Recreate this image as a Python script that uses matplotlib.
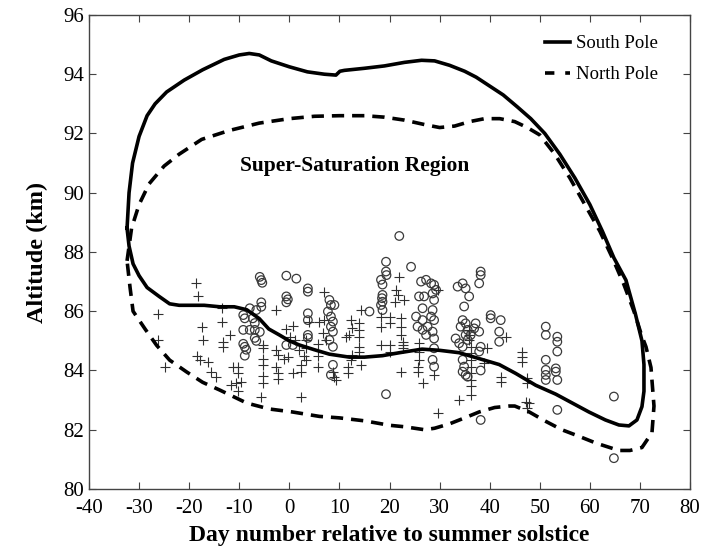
import matplotlib
matplotlib.use("Agg")
import matplotlib.pyplot as plt
from matplotlib.lines import Line2D

plt.rcParams['font.family'] = ['Liberation Serif', 'DejaVu Serif']
plt.rcParams['axes.unicode_minus'] = False

# South Pole boundary (closed curve)
sp_x = [-32.4, -32.0, -31.3, -30.0, -28.4, -26.8, -24.5, -21.0, -17.3, -13.0, -10.0, -8.0, -6.0,
        -3.6, 0.0, 3.6, 7.0, 9.3, 10.1, 11.0, 15.0, 19.0, 23.0, 26.4, 29.0, 32.0, 35.0, 37.3,
        40.0, 42.7, 45.5, 48.2, 51.0, 54.0, 57.0, 60.0, 62.5, 64.8, 67.2, 69.1, 70.4, 70.8,
        70.8, 70.4, 69.4, 67.8, 65.8, 63.1, 59.8, 56.5, 53.2, 49.2, 45.2, 41.9, 37.9, 33.9,
        30.0, 26.5, 22.0, 18.6, 15.0, 12.0, 8.0, 5.0, 2.0, 0.0, -2.0, -4.1, -6.0, -8.5, -11.0,
        -13.9, -17.0, -20.0, -22.0, -23.9, -26.0, -28.4, -30.0, -31.2, -32.0, -32.4]
sp_y = [88.8, 90.0, 91.0, 91.9, 92.6, 93.0, 93.4, 93.8, 94.15, 94.5, 94.65, 94.7, 94.65,
        94.45, 94.25, 94.08, 94.0, 93.97, 94.1, 94.13, 94.2, 94.28, 94.4, 94.47, 94.45, 94.3, 94.1, 93.9,
        93.6, 93.3, 92.9, 92.5, 92.0, 91.3, 90.5, 89.6, 88.7, 87.8, 87.05, 85.9, 85.0, 84.2,
        83.3, 82.78, 82.33, 82.13, 82.16, 82.33, 82.6, 82.9, 83.2, 83.5, 83.9, 84.2, 84.4, 84.6,
        84.68, 84.72, 84.6, 84.5, 84.45, 84.45, 84.55, 84.7, 84.86, 85.0, 85.2, 85.4, 85.75, 86.05, 86.15,
        86.15, 86.2, 86.2, 86.2, 86.25, 86.5, 86.8, 87.2, 87.6, 88.2, 88.8]

# North Pole boundary (closed curve)
np_x = [-32.4, -31.5, -30.0, -28.0, -25.0, -22.0, -17.5, -12.0, -6.0, 0.0, 5.0, 10.0, 15.0, 19.0,
        23.0, 27.0, 30.0, 33.0, 36.0, 39.0, 42.0, 45.0, 47.5, 50.0, 53.0, 56.0, 59.0, 62.0, 64.5,
        66.8, 68.8, 70.3, 71.2, 72.2, 72.8, 72.4, 70.4, 68.0, 65.8, 61.2, 57.5, 54.4, 51.0, 47.9,
        45.0, 43.9, 41.0, 37.9, 35.0, 32.0, 29.0, 27.0, 23.0, 20.0, 15.0, 10.0, 6.0, 0.6, -4.0,
        -8.5, -13.9, -17.3, -20.5, -23.9, -26.5, -28.8, -31.2, -31.8, -32.4]
np_y = [87.7, 88.8, 89.6, 90.3, 90.9, 91.3, 91.8, 92.1, 92.35, 92.5, 92.58, 92.6, 92.6, 92.55,
        92.45, 92.3, 92.2, 92.25, 92.4, 92.5, 92.5, 92.4, 92.2, 91.95, 91.3, 90.5, 89.6, 88.7, 87.8,
        86.9, 86.0, 85.2, 84.8, 84.1, 82.8, 81.9, 81.4, 81.3, 81.3, 81.55, 81.8, 82.0, 82.3, 82.6,
        82.8, 82.8, 82.75, 82.6, 82.4, 82.2, 82.05, 82.0, 82.1, 82.15, 82.3, 82.4, 82.45, 82.6, 82.7,
        82.9, 83.34, 83.6, 83.95, 84.35, 84.85, 85.4, 86.0, 86.8, 87.7]

# Observations (circles)
circ_x = [-5.9, -5.6, -5.4, -0.6, 1.4, 3.7, 3.7, -0.6, -0.3, -0.6, -5.6, -5.6, -7.9, -6.6,
          -9.2, -8.9, -7.3, -6.9, -9.2, -7.9, -6.9, -5.9, -6.9, -6.6, -9.2, -8.9, -8.6, -8.9,
          3.7, 3.7, 3.7, 3.7, -0.6, 0.7,
          21.95, 19.3, 19.3, 19.4, 24.3, 18.3, 18.6, 18.6, 18.5, 18.6, 18.3, 16.0, 18.6,
          8.0, 8.3, 9.0, 7.7, 8.3, 8.7, 8.3, 8.7, 8.0, 8.7, 8.7, 8.3,
          26.3, 27.3, 28.3, 28.9, 29.3, 25.9, 26.9, 28.6, 28.9, 28.6, 26.6, 25.3, 26.6, 28.3, 28.9,
          25.6, 26.6, 27.6, 28.6, 27.3, 28.9, 28.9, 28.6, 28.9,
          34.6, 35.2, 33.6, 35.9, 34.9, 34.6, 35.2, 34.2, 35.6, 37.2, 37.9, 36.9,
          33.2, 33.9, 34.6, 35.2, 36.2, 35.6, 38.2, 37.9, 34.6, 34.9, 34.6, 35.2, 35.6,
          38.2, 38.2, 37.9, 40.2, 40.2, 19.3,
          42.2, 41.9, 41.9, 38.2, 51.2, 51.2, 53.5, 53.5, 53.5, 51.2, 51.2, 51.2, 51.2,
          53.2, 53.2, 53.5, 53.5, 64.8, 64.8, 38.2]
circ_y = [87.16, 87.05, 86.96, 87.2, 87.1, 86.77, 86.66, 86.5, 86.4, 86.3, 86.3, 86.15, 86.1, 86.04,
          85.87, 85.76, 85.76, 85.6, 85.37, 85.37, 85.37, 85.3, 85.1, 85.0, 84.9, 84.8, 84.7, 84.5,
          85.93, 85.7, 85.2, 85.1, 84.86, 84.86,
          88.54, 87.67, 87.34, 87.22, 87.5, 87.06, 86.9, 86.55, 86.44, 86.32, 86.21, 85.99, 86.04,
          86.38, 86.21, 86.21, 85.99, 85.82, 85.65, 85.48, 85.31, 85.03, 84.8, 84.19, 83.85,
          87.0, 87.06, 86.94, 86.89, 86.72, 86.5, 86.5, 86.6, 86.38, 86.04, 86.1, 85.82, 85.7, 85.82, 85.7,
          85.48, 85.37, 85.48, 85.31, 85.2, 85.08, 84.75, 84.36, 84.13,
          86.94, 86.77, 86.83, 86.5, 86.16, 85.7, 85.59, 85.48, 85.37, 85.59, 85.31, 85.42,
          85.08, 84.92, 84.8, 85.2, 85.2, 85.03, 84.8, 84.64, 84.36, 84.13, 83.96, 83.85, 83.79,
          87.34, 87.22, 86.94, 85.87, 85.76, 83.2,
          85.7, 85.31, 84.97, 84.0, 85.48, 85.2, 85.14, 84.97, 84.64, 84.36, 84.02, 83.85, 83.68,
          84.07, 83.96, 83.68, 82.67, 83.12, 81.04, 82.33]

# Observations (plus signs)
plus_x = [-18.7, -18.3, -26.2, -13.4, -13.4, -17.4, -17.2, -13.3, -13.2, -11.9, -26.2, -18.5, -17.9,
          -16.2, -24.9, -15.6, -14.6, -11.2, -10.2, -10.2, -11.6, -10.6, -9.6, -10.2, -2.6, -5.3, -5.3,
          -5.3, -5.3, -5.3, -5.3, -5.6, -2.6, -2.3, -2.6, -2.3, -2.3, -0.6, 0.7, 0.05, 1.05, 2.0, 3.0,
          3.4, 2.4, 2.4, 0.7, 2.4, -0.3, -1.0, 3.4, 5.7, 5.7, 5.7, 4.0, 6.0, 3.4,
          7.0, 7.0, 6.7, 7.3, 8.7, 9.0, 9.3, 12.3, 12.6, 11.3, 12.0, 14.0, 14.0, 14.0, 14.0, 14.0, 14.3,
          12.6, 11.7, 11.7, 14.3, 12.3, 18.3, 20.0, 18.3, 20.0, 18.3, 20.0, 20.0,
          21.95, 21.3, 21.6, 22.9, 21.0, 22.3, 22.3, 22.3, 22.6, 22.6, 22.6, 22.3,
          25.9, 25.9, 25.9, 25.6, 25.6, 26.6, 28.9, 29.6, 29.6,
          35.9, 35.9, 35.9, 36.2, 36.2, 36.2, 36.2, 36.2, 36.2, 36.2, 36.2, 33.9, 39.5,
          43.2, 38.9, 46.5, 46.5, 46.5, 42.2, 42.2, 47.5, 47.5, 47.2, 47.9, 47.5]
plus_y = [86.94, 86.5, 85.9, 86.1, 85.65, 85.46, 85.03, 84.97, 84.8, 85.2, 85.03, 84.5, 84.35,
          84.3, 84.13, 83.96, 83.79, 84.13, 84.13, 83.9, 83.5, 83.57, 83.6, 83.3, 86.04, 84.86, 84.75,
          84.4, 84.2, 83.8, 83.57, 83.12, 84.69, 84.52, 84.13, 83.9, 83.7, 85.4, 85.5, 85.14, 85.03, 84.69, 84.5,
          84.35, 84.2, 83.96, 83.9, 83.12, 84.46, 84.4, 85.03, 84.9, 84.5, 84.13, 85.65, 85.65, 84.75,
          86.66, 85.7, 85.25, 85.03, 83.96, 83.79, 83.68, 85.7, 85.42, 85.14, 85.2, 85.59, 85.37, 85.14, 84.8, 84.64, 86.04,
          84.52, 84.13, 83.9, 84.19, 84.36, 85.82, 85.82, 85.48, 85.6, 84.86, 84.86, 84.64,
          87.17, 86.72, 86.55, 86.38, 86.32, 85.76, 85.48, 85.2, 84.97, 84.86, 84.75, 83.96,
          84.92, 84.64, 84.36, 84.13, 83.96, 83.57, 83.85, 86.72, 82.56,
          85.37, 85.2, 85.03, 84.8, 84.58, 84.36, 84.13, 83.9, 83.68, 83.46, 83.18, 83.0, 84.75,
          85.14, 84.24, 84.64, 84.47, 84.3, 83.79, 83.62, 83.74, 83.57, 82.95, 82.9, 82.72]

x_ticks = list(range(-40, 81, 10))
y_ticks = list(range(80, 97, 2))

fig = plt.figure(figsize=(7.13, 5.48), dpi=100)
ax = fig.add_axes([0.1248, 0.1077, 0.8430, 0.8650])

ax.scatter(circ_x, circ_y, s=38, marker='o', facecolors='none', edgecolors='#3a3a3a',
           linewidths=0.9, zorder=2)
ax.scatter(plus_x, plus_y, s=45, marker='+', color='#303030', linewidths=0.8, zorder=2)

ax.plot(sp_x, sp_y, color='black', lw=2.6, solid_joinstyle='round', zorder=3)
ax.plot(np_x, np_y, color='black', lw=2.6, linestyle=(0, (3.4, 2.2)), zorder=3)

ax.text(13, 90.9, 'Super-Saturation Region', fontsize=15.5, fontweight='bold',
        ha='center', va='center')

handles = [Line2D([0], [0], color='black', lw=2.6),
           Line2D([0], [0], color='black', lw=2.6, linestyle=(0, (2.6, 3.0)))]
ax.legend(handles, ['South Pole', 'North Pole'], loc='upper left',
          bbox_to_anchor=(0.759, 0.957), frameon=False, fontsize=13.5,
          handlelength=1.35, handletextpad=0.3, labelspacing=0.72,
          borderpad=0, borderaxespad=0)

ax.set_xlim(-40, 80)
ax.set_ylim(80, 96)
ax.set_xticks(x_ticks)
ax.set_yticks(y_ticks)
ax.tick_params(direction='in', top=True, right=True, length=5, width=0.8,
               labelsize=15, color='#444444')
ax.tick_params(axis='x', pad=7)
for sp in ax.spines.values():
    sp.set_color('#444444')
    sp.set_linewidth(1.0)

ax.set_xlabel('Day number relative to summer solstice', fontsize=17, fontweight='bold', labelpad=5)
ax.set_ylabel('Altitude (km)', fontsize=17.5, fontweight='bold', labelpad=11)

fig.savefig('out.png', dpi=100)
